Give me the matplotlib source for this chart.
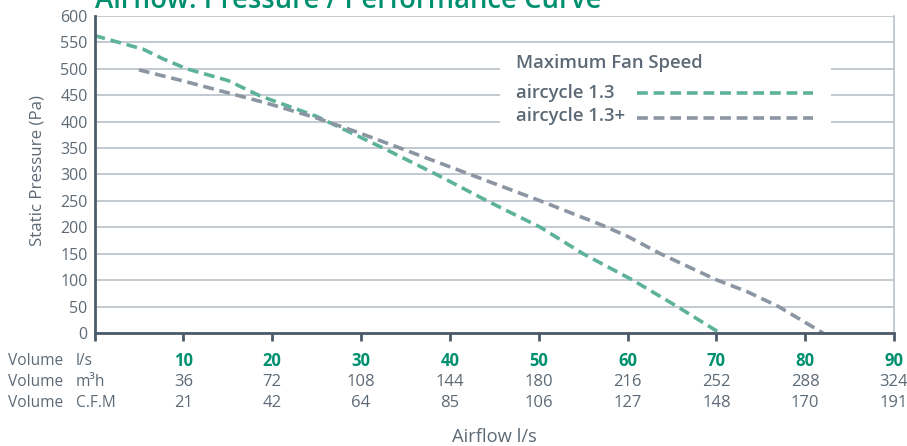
import matplotlib
matplotlib.use('Agg')
import matplotlib.pyplot as plt
from matplotlib.transforms import blended_transform_factory
from matplotlib.patches import Rectangle

plt.rcParams['font.family'] = ['Open Sans', 'DejaVu Sans']

# airflow l/s vs static pressure Pa
x_13 = [0, 5.5, 7.7, 10.4, 15, 18.6, 25, 30, 32.5, 38.5, 44.2, 50.2, 55, 60.6, 65.6, 70.4]
y_13 = [563, 537, 519, 500, 478, 449, 410, 370, 350, 300, 250, 200, 150, 100, 50, 0]
x_13p = [5, 10, 15.6, 19.4, 25, 29.6, 34.4, 42.3, 50.2, 57, 60, 63.7, 70.1, 73.5, 77, 82]
y_13p = [498, 477, 452, 435, 407, 380, 350, 300, 250, 205, 183, 150, 100, 78, 50, 0]

ls_ticks = [10, 20, 30, 40, 50, 60, 70, 80, 90]
m3h_vals = [36, 72, 108, 144, 180, 216, 252, 288, 324]
cfm_vals = [21, 42, 64, 85, 106, 127, 148, 170, 191]
row_units = ['l/s', 'm³h', 'C.F.M']
series_names = ['aircycle 1.3', 'aircycle 1.3+']

GREEN_LINE = '#5db39a'
GREY_LINE = '#8c95a2'
GREEN_TXT = '#00906f'
TXT = '#5d6a76'
AXIS = '#4c5b69'
GRID = '#b9c0c8'

fig = plt.figure(figsize=(9.07, 4.46), dpi=100)
ax = fig.add_axes([0.1042, 0.2534, 0.8815, 0.7107])

ax.set_xlim(0, 90)
ax.set_ylim(0, 600)
ax.set_yticks(range(0, 601, 50))
ax.yaxis.grid(True, color=GRID, lw=1.2)
ax.set_axisbelow(True)

for s in ['left', 'bottom']:
    ax.spines[s].set_color(AXIS)
    ax.spines[s].set_linewidth(2)
ax.spines['top'].set_visible(False)
ax.spines['right'].set_color(GRID)
ax.spines['right'].set_linewidth(1.2)

ax.tick_params(axis='y', length=0, labelsize=11.5, labelcolor=TXT, pad=5)
ax.set_xticks([0] + ls_ticks)
ax.set_xticklabels([])
ax.tick_params(axis='x', length=6, width=2, color=AXIS)

dash = (3.0, 1.6)
ax.plot(x_13, y_13, color=GREEN_LINE, lw=2.6, dashes=dash)
ax.plot(x_13p, y_13p, color=GREY_LINE, lw=2.6, dashes=dash)

# volume rows under the axis
tr = blended_transform_factory(ax.transData, fig.transFigure)
row_y = [1 - 361 / 446, 1 - 382 / 446, 1 - 403 / 446]
for xv in ls_ticks:
    fig.text(xv, row_y[0], str(xv), transform=tr, ha='center', va='center', fontsize=12,
             fontweight='bold', color=GREEN_TXT)
for vals, yy in [(m3h_vals, row_y[1]), (cfm_vals, row_y[2])]:
    for xv, v in zip(ls_ticks, vals):
        fig.text(xv, yy, str(v), transform=tr, ha='center', va='center', fontsize=12, color=TXT)
for unit, yy in zip(row_units, row_y):
    fig.text(8 / 907, yy, 'Volume', ha='left', va='center', fontsize=11.2, color=TXT)
    fig.text(76 / 907, yy, unit, ha='left', va='center', fontsize=11.2, color=TXT)

fig.text(494 / 907, 1 - 437 / 446, 'Airflow l/s', ha='center', va='center', fontsize=13.2, color=TXT)
fig.text(38 / 907, 1 - 171 / 446, 'Static Pressure (Pa)', rotation=90, ha='center', va='center',
         fontsize=12.2, color=TXT)
fig.text(95 / 907, 1 - 7.5 / 446, 'Airflow: Pressure / Performance Curve', ha='left', va='baseline',
         fontsize=19.8, fontweight='semibold', color=GREEN_TXT)

# legend box drawn by hand
ax.add_patch(Rectangle((0.507, 0.6246), 0.414, 0.284, transform=ax.transAxes,
                       facecolor='white', edgecolor='none', zorder=3))
ax.text(0.527, 0.852, 'Maximum Fan Speed', transform=ax.transAxes, ha='left', va='center',
        fontsize=13.3, fontweight='semibold', color=TXT, zorder=4)
for name, col, ty, ly in zip(series_names, [GREEN_LINE, GREY_LINE], [0.757, 0.685], [0.756, 0.677]):
    ax.text(0.527, ty, name, transform=ax.transAxes, ha='left', va='center',
            fontsize=13.3, fontweight='semibold', color=TXT, zorder=4)
    ax.plot([0.6785, 0.8987], [ly, ly], transform=ax.transAxes, color=col, lw=2.6,
            dashes=dash, zorder=4, clip_on=False)

fig.savefig('out.png', dpi=100)
